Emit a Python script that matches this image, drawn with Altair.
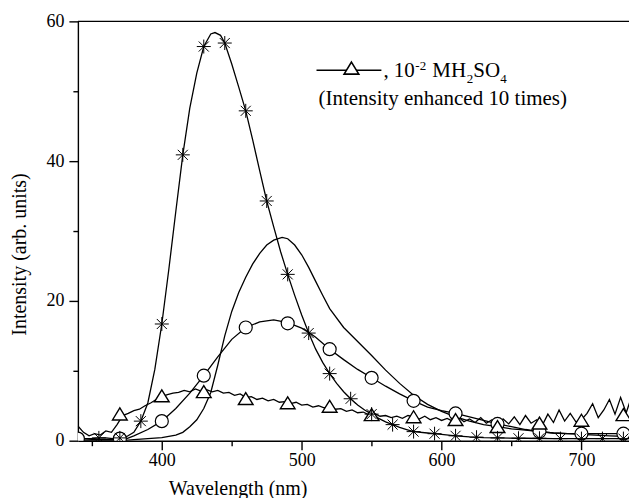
import altair as alt
import pandas as pd

# ---------------- data ----------------
star_line_x = [340, 345, 350, 355, 360, 365, 370, 375, 380, 385, 390, 395, 400, 405, 410, 415, 420, 425,
               430, 435, 438, 442, 445, 450, 455, 460, 465, 470, 475, 480, 485, 490, 495, 500, 505, 510,
               515, 520, 525, 530, 535, 540, 545, 550, 555, 560, 565, 570, 575, 580, 590, 600, 610, 620,
               630, 640, 660, 680, 700, 720, 734]
star_line_y = [0.3, 0.3, 0.3, 0.4, 0.4, 0.3, 0.4, 0.6, 1.2, 2.8, 5.4, 10.2, 16.7, 24.5, 32.8, 40.9, 47.6, 52.6,
               56.4, 58.2, 58.4, 58.0, 56.9, 53.9, 50.6, 47.2, 43.0, 38.6, 34.3, 30.6, 27.0, 23.8, 20.8, 18.0,
               15.4, 13.1, 11.2, 9.6, 8.2, 7.0, 6.0, 5.1, 4.4, 3.8, 3.2, 2.7, 2.3, 1.9, 1.6, 1.3, 1.1, 0.9,
               0.7, 0.55, 0.45, 0.4, 0.35, 0.3, 0.3, 0.3, 0.3]
star_mark_x = [355, 370, 385, 400, 415, 430, 445, 460, 475, 490, 505, 520, 535, 550, 565, 580, 595, 610,
               625, 640, 655, 670, 685, 700, 715, 730]
star_mark_y = [0.4, 0.4, 2.8, 16.7, 40.9, 56.4, 56.9, 47.2, 34.3, 23.8, 15.4, 9.6, 6.0, 3.8, 2.3, 1.3, 1.0, 0.7,
               0.5, 0.4, 0.35, 0.35, 0.3, 0.3, 0.3, 0.3]

plain_x = [340, 360, 372, 380, 390, 400, 410, 415, 420, 425, 430, 435, 440, 445, 450, 455, 460, 465, 470,
           475, 480, 486, 490, 495, 500, 505, 510, 515, 520, 530, 540, 550, 560, 570, 580, 590, 600, 610,
           620, 630, 640, 650, 660, 670, 680, 690, 700, 710, 720, 734]
plain_y = [0.0, 0.0, 0.0, 0.15, 0.3, 0.45, 0.8, 1.2, 2.0, 3.0, 4.6, 6.9, 10.8, 15.0, 18.5, 21.2, 23.4, 25.3,
           26.8, 28.0, 28.7, 29.1, 28.9, 28.0, 26.6, 24.8, 22.8, 20.8, 18.9, 16.2, 14.2, 12.2, 10.1, 8.2,
           6.5, 5.2, 4.2, 3.4, 2.8, 2.3, 2.0, 1.7, 1.5, 1.3, 1.1, 1.0, 0.9, 0.8, 0.7, 0.6]

circle_line_x = [340, 350, 360, 370, 375, 380, 390, 400, 410, 420, 430, 440, 450, 460, 470, 480, 490, 500,
                 505, 510, 520, 530, 540, 550, 560, 570, 580, 590, 600, 610, 620, 630, 640, 650, 660, 670,
                 680, 690, 700, 710, 720, 734]
circle_line_y = [0.3, 0.2, 0.2, 0.2, 0.3, 0.7, 1.6, 2.8, 4.6, 6.8, 9.3, 12.0, 14.5, 16.2, 17.0, 17.3, 16.9,
                 16.1, 15.5, 14.8, 13.1, 11.6, 10.2, 9.0, 7.8, 6.7, 5.7, 4.8, 4.3, 3.9, 3.4, 2.9, 2.4, 2.0,
                 1.6, 1.3, 1.1, 1.0, 1.0, 1.0, 1.0, 1.0]
circle_mark_x = [340, 370, 400, 430, 460, 490, 520, 550, 580, 610, 640, 670, 700, 730]
circle_mark_y = [0.3, 0.3, 2.8, 9.3, 16.2, 16.8, 13.1, 9.0, 5.7, 3.9, 2.4, 1.3, 1.0, 1.0]

tri_line_x = [340, 344, 348, 352, 356, 360, 364, 368, 372, 376, 380, 384, 388, 392, 396, 400, 404, 408,
              412, 416, 420, 424, 428, 432, 436, 440, 444, 448, 452, 456, 460, 464, 468, 472, 476, 480,
              484, 488, 492, 496, 500, 504, 508, 512, 516, 520, 524, 528, 532, 536, 540, 544, 548, 552,
              556, 560, 564, 568, 572, 576, 580, 584, 588, 592, 596, 600, 604, 608, 612, 616, 620, 624,
              628, 632, 636, 640, 644, 648, 652, 656, 660, 664, 668, 672, 676, 680, 684, 688, 692, 696,
              700, 704, 708, 712, 716, 720, 724, 728, 732, 736]
tri_line_y = [2.1, 1.2, 0.7, 1.0, 0.8, 1.4, 1.2, 2.3, 3.6, 3.9, 4.3, 4.5, 5.0, 5.4, 5.9, 6.3, 6.6, 6.8,
              6.9, 7.2, 7.0, 7.4, 7.1, 7.3, 7.0, 7.2, 6.8, 6.9, 6.5, 6.7, 6.2, 6.3, 5.9, 6.1, 5.7, 5.9,
              5.5, 5.6, 5.3, 5.5, 5.1, 5.2, 4.8, 5.0, 4.7, 4.9, 4.5, 4.6, 4.2, 4.4, 4.0, 4.1, 3.7, 3.9,
              3.5, 3.6, 3.3, 3.5, 3.2, 3.6, 3.4, 3.1, 3.5, 3.0, 3.3, 2.9, 3.2, 2.8, 3.4, 2.7, 3.1, 2.6,
              3.3, 2.5, 3.0, 2.2, 3.1, 2.4, 3.4, 2.3, 3.6, 2.5, 3.0, 2.2, 3.8, 2.6, 4.4, 2.8, 3.9, 2.7,
              3.0, 3.9, 5.3, 3.3, 4.4, 5.9, 3.8, 6.2, 4.0, 6.4]
tri_mark_x = [370, 400, 430, 460, 490, 520, 550, 580, 610, 640, 670, 700, 730]
tri_mark_y = [3.8, 6.4, 7.0, 6.0, 5.4, 4.9, 3.7, 3.4, 3.0, 2.0, 2.5, 2.9, 3.7]

x_ticks = [350, 400, 450, 500, 550, 600, 650, 700]
y_ticks = [0, 10, 20, 30, 40, 50, 60]

# ---------------- build ----------------
FONT = "Liberation Serif"
STAR = "M0,-1L0,1M-1,0L1,0M-0.72,-0.72L0.72,0.72M-0.72,0.72L0.72,-0.72"
TRI = "M0,-0.8L0.95,0.75L-0.95,0.75Z"

lines = pd.concat([
    pd.DataFrame({"x": star_line_x, "y": star_line_y, "s": "star"}),
    pd.DataFrame({"x": plain_x, "y": plain_y, "s": "plain"}),
    pd.DataFrame({"x": circle_line_x, "y": circle_line_y, "s": "circle"}),
    pd.DataFrame({"x": tri_line_x, "y": tri_line_y, "s": "tri"}),
])

xs = alt.Scale(domain=[340, 734], nice=False, zero=False)
ys = alt.Scale(domain=[0, 60], nice=False)

common_axis = dict(
    labelFont=FONT, titleFont=FONT, labelFontSize=18, titleFontSize=20,
    labelColor="black", titleColor="black", titleFontWeight="normal",
    domainColor="black", tickColor="black", domainWidth=1.4, tickWidth=1.4,
    labelFlush=False, labelOverlap=False, grid=False,
)

xaxis = alt.Axis(
    values=x_ticks, labelExpr="datum.value % 100 == 0 ? datum.label : ''",
    tickSize={"condition": {"test": "datum.value % 100 == 0", "value": 9}, "value": 5},
    title="Wavelength (nm)", titleX=160, titleY=54, titleAlign="center", titleBaseline="alphabetic",
    labelPadding=2, **common_axis,
)
yaxis = alt.Axis(
    values=y_ticks, labelExpr="datum.value % 20 == 0 ? datum.label : ''",
    tickSize={"condition": {"test": "datum.value % 20 == 0", "value": 9}, "value": 5},
    title="Intensity (arb. units)", titleX=-52, titleY=233, titleAngle=270, titleAlign="center",
    titleBaseline="alphabetic", labelPadding=5, **common_axis,
)

X = alt.X("x:Q", scale=xs, axis=xaxis)
Y = alt.Y("y:Q", scale=ys, axis=yaxis)

line_layer = alt.Chart(lines).mark_line(color="black", strokeWidth=1.3, clip=True).encode(
    x=X, y=Y, detail="s:N")

star_layer = alt.Chart(pd.DataFrame({"x": star_mark_x, "y": star_mark_y})).mark_point(
    shape=STAR, size=196, filled=False, stroke="black", strokeWidth=1.0, opacity=1, clip=True
).encode(x=X, y=Y)

circle_layer = alt.Chart(pd.DataFrame({"x": circle_mark_x, "y": circle_mark_y})).mark_point(
    shape="circle", size=169, filled=True, fill="white", stroke="black", strokeWidth=1.2, opacity=1,
    clip=True
).encode(x=X, y=Y)

tri_layer = alt.Chart(pd.DataFrame({"x": tri_mark_x, "y": tri_mark_y})).mark_point(
    shape=TRI, size=240, filled=True, fill="white", stroke="black", strokeWidth=1.4, opacity=1,
    clip=True
).encode(x=X, y=Y)

one = pd.DataFrame({"a": [0]})
top_border = alt.Chart(one).mark_rule(color="black", strokeWidth=1.4).encode(
    y=alt.value(0), x=alt.value(0), x2=alt.value(552))

leg_line = alt.Chart(one).mark_rule(color="black", strokeWidth=1.4).encode(
    x=alt.value(239), x2=alt.value(304), y=alt.value(49))
leg_tri = alt.Chart(one).mark_point(
    shape=TRI, size=240, filled=True, fill="white", stroke="black", strokeWidth=1.6, opacity=1
).encode(x=alt.value(274), y=alt.value(47))


def txt(s, x, y, size):
    return alt.Chart(pd.DataFrame({"t": [s]})).mark_text(
        align="left", baseline="alphabetic", font=FONT, fontSize=size, color="black"
    ).encode(text="t:N", x=alt.value(x), y=alt.value(y))


legend_texts = [
    txt(", 10", 306, 56, 21),
    txt("-2", 338, 49, 13),
    txt("MH", 355, 56, 21),
    txt("2", 389.5, 62, 13),
    txt("SO", 396, 56, 21),
    txt("4", 423, 62, 13),
    txt("(Intensity enhanced 10 times)", 241, 84, 21),
]

chart = alt.layer(
    line_layer, circle_layer, tri_layer, star_layer, top_border, leg_line, leg_tri, *legend_texts
).properties(
    width=552, height=420,
    padding={"left": 70, "top": 13, "right": 0, "bottom": 57},
    autosize=alt.AutoSizeParams(type="none"),
).configure(font=FONT).configure_view(stroke=None).configure_axis(
    labelFont=FONT, titleFont=FONT,
)

chart.save("out.html", embed_options={"renderer": "svg", "actions": False})
